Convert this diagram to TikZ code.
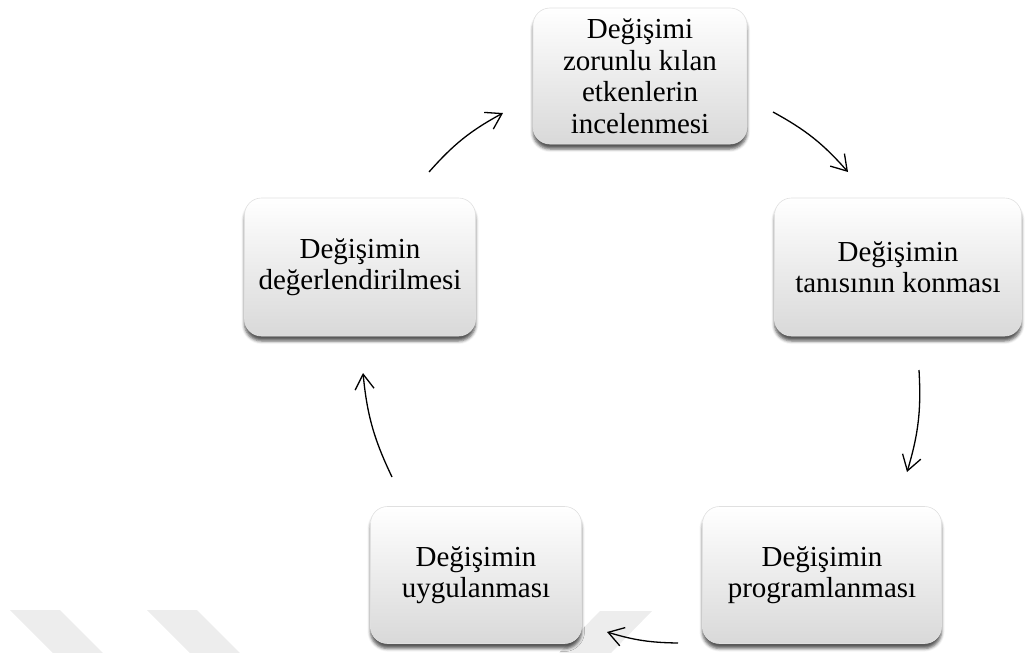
\documentclass[tikz,border=0pt]{standalone}
\usepackage{fontspec}
\setmainfont{Liberation Serif}
\usetikzlibrary{arrows.meta,shadows.blur}

\tikzset{
  stage/.style={
    rounded corners=17pt, draw=black!12, line width=0.6pt,
    top color=white, middle color=white, bottom color=black!15,
    blur shadow={shadow xshift=0pt, shadow yshift=-5pt,
                 shadow blur radius=3pt, shadow opacity=65},
    align=center, inner sep=4pt,
    font=\fontsize{29}{31.5}\selectfont
  },
  cyclearrow/.style={
    line width=1.3pt, black,
    -{Straight Barb[length=15pt,width=19pt,line width=1.3pt]}
  },
  mark band/.style={fill=black!7, draw=none}
}

\begin{document}
\begin{tikzpicture}[x=1pt,y=-1pt]
  \useasboundingbox (0,0) rectangle (1025,653);

  % faint background bands
  \fill[mark band] (10,610) -- (60,610) -- (103,653) -- (53,653) -- cycle;
  \fill[mark band] (147,610) -- (197,610) -- (240,653) -- (190,653) -- cycle;
  \fill[mark band] (600,611) -- (652,611) -- (611,653) -- (559,653) -- cycle;

  % stages of the change cycle
  \node[stage, minimum width=214pt, minimum height=136pt] (top) at (640,76)
    {Değişimi\\zorunlu kılan\\etkenlerin\\incelenmesi};
  \node[stage, minimum width=247pt, minimum height=138pt] (right) at (898,267)
    {Değişimin\\tanısının konması};
  \node[stage, minimum width=239pt, minimum height=137pt] (botright) at (822,575)
    {Değişimin\\programlanması};
  \node[stage, minimum width=211pt, minimum height=137pt] (botleft) at (476,575)
    {Değişimin\\uygulanması};
  \node[stage, minimum width=231pt, minimum height=138pt] (left) at (360,267)
    {Değişimin\\değerlendirilmesi};

  % arrow end points on the cycle
  \coordinate (a1s) at (773,112);  \coordinate (a1e) at (848,172);
  \coordinate (a2s) at (919,370);  \coordinate (a2e) at (907,472);
  \coordinate (a3s) at (678,643);  \coordinate (a3e) at (607,632);
  \coordinate (a4s) at (392,477);  \coordinate (a4e) at (363,373);
  \coordinate (a5s) at (429,172);  \coordinate (a5e) at (503,113);

  \draw[cyclearrow] (a1s) to[bend left=10] (a1e);
  \draw[cyclearrow] (a2s) to[bend left=10] (a2e);
  \draw[cyclearrow] (a3s) to[bend left=8] (a3e);
  \draw[cyclearrow] (a4s) to[bend left=10] (a4e);
  \draw[cyclearrow] (a5s) to[bend left=10] (a5e);
\end{tikzpicture}
\end{document}
